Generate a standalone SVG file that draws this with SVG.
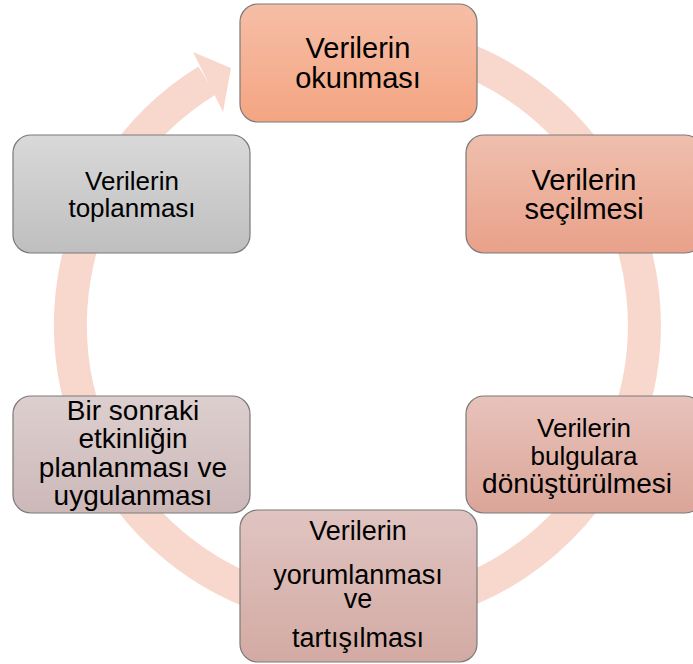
<svg xmlns="http://www.w3.org/2000/svg" width="693" height="664" viewBox="0 0 693 664">
<defs>
<linearGradient id="g1" x1="0" y1="0" x2="0" y2="1"><stop offset="0" stop-color="#f6bea7"/><stop offset="1" stop-color="#f4a582"/></linearGradient>
<linearGradient id="g2" x1="0" y1="0" x2="0" y2="1"><stop offset="0" stop-color="#efbfad"/><stop offset="1" stop-color="#e9a18a"/></linearGradient>
<linearGradient id="g3" x1="0" y1="0" x2="0" y2="1"><stop offset="0" stop-color="#d9d9d9"/><stop offset="1" stop-color="#bfbfbf"/></linearGradient>
<linearGradient id="g4" x1="0" y1="0" x2="0" y2="1"><stop offset="0" stop-color="#e8c3bb"/><stop offset="1" stop-color="#dba598"/></linearGradient>
<linearGradient id="g5" x1="0" y1="0" x2="0" y2="1"><stop offset="0" stop-color="#e0c4c1"/><stop offset="1" stop-color="#d3aaa3"/></linearGradient>
<linearGradient id="g6" x1="0" y1="0" x2="0" y2="1"><stop offset="0" stop-color="#ddcfcf"/><stop offset="1" stop-color="#cdb8b8"/></linearGradient>
</defs>
<style>
.box{stroke:#7a7a7a;stroke-width:1.2}
.t{font-family:"Liberation Sans",Arial,sans-serif;fill:#000;text-anchor:middle}
.ring{fill:none;stroke:#f8d8cd;stroke-width:33}
</style>
<g id="connectors">
<path class="ring" d="M 357.5 38 A 287 287 0 1 1 207.1 80.5"/>
<polygon points="193,52 231,68 223,112" fill="#f8d8cd"/>
</g>
<g id="n1">
<rect class="box" x="240" y="4" width="237" height="118" rx="18" fill="url(#g1)"/>
<text class="t" x="358" y="58" font-size="29">Verilerin</text>
<text class="t" x="358" y="88" font-size="29">okunması</text>
</g>
<g id="n2">
<rect class="box" x="466" y="135" width="237" height="118" rx="18" fill="url(#g2)"/>
<text class="t" x="584" y="190" font-size="29">Verilerin</text>
<text class="t" x="584" y="219" font-size="29">seçilmesi</text>
</g>
<g id="n3">
<rect class="box" x="13" y="135" width="237" height="118" rx="18" fill="url(#g3)"/>
<text class="t" x="132" y="190" font-size="26">Verilerin</text>
<text class="t" x="132" y="217" font-size="26">toplanması</text>
</g>
<g id="n4">
<rect class="box" x="466" y="396" width="237" height="117" rx="18" fill="url(#g4)"/>
<text class="t" x="584" y="437" font-size="26">Verilerin</text>
<text class="t" x="584" y="465" font-size="26">bulgulara</text>
<text class="t" x="577" y="493" font-size="28">dönüştürülmesi</text>
</g>
<g id="n5">
<rect class="box" x="240" y="510" width="237" height="152" rx="18" fill="url(#g5)"/>
<text class="t" x="358" y="540" font-size="27">Verilerin</text>
<text class="t" x="358" y="584" font-size="27">yorumlanması</text>
<text class="t" x="358" y="608" font-size="27">ve</text>
<text class="t" x="358" y="647" font-size="27">tartışılması</text>
</g>
<g id="n6">
<rect class="box" x="13" y="396" width="237" height="117" rx="18" fill="url(#g6)"/>
<text class="t" x="133" y="420" font-size="28">Bir sonraki</text>
<text class="t" x="133" y="448" font-size="28">etkinliğin</text>
<text class="t" x="133" y="477" font-size="28">planlanması ve</text>
<text class="t" x="133" y="505" font-size="28">uygulanması</text>
</g>
</svg>
